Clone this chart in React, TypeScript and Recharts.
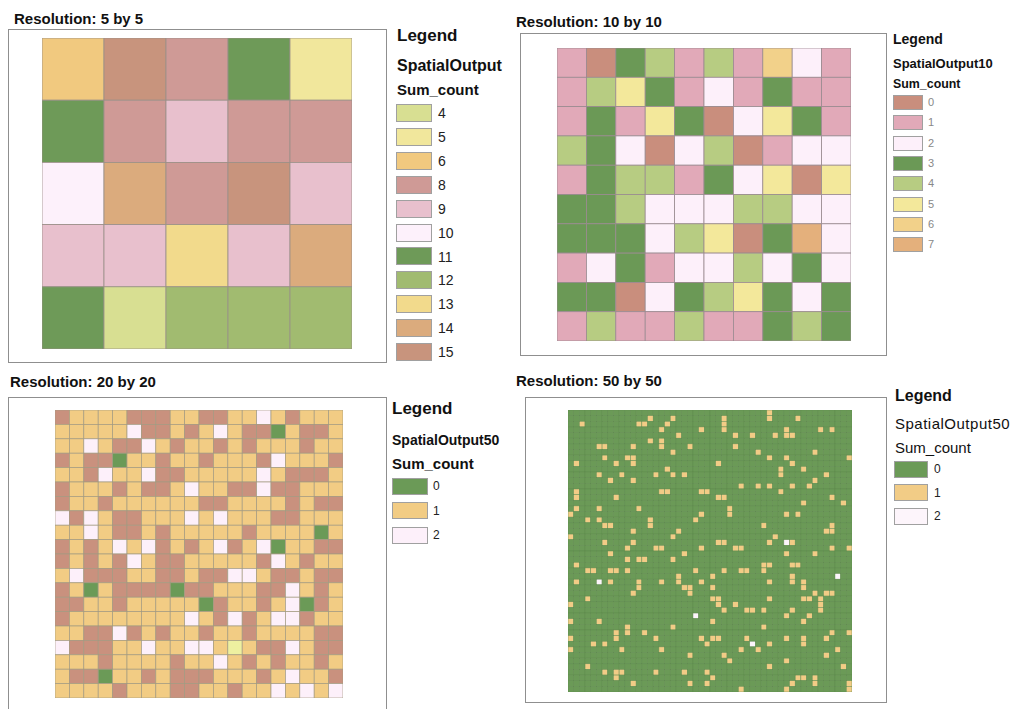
import React from "react";
import { ScatterChart, Scatter, XAxis, YAxis } from "recharts";

// 5 by 5 panel
const cells5 = [
  [6, 15, 8, 11, 5],
  [11, 8, 9, 8, 8],
  [10, 14, 8, 15, 9],
  [9, 9, 13, 9, 14],
  [11, 4, 12, 12, 12],
];
const legend5 = [4, 5, 6, 8, 9, 10, 11, 12, 13, 14, 15];
const colors5: Record<number, string> = {
  4: "#d8df92",
  5: "#f1e79c",
  6: "#f1c97f",
  8: "#cf9a96",
  9: "#e8c0cd",
  10: "#fdf1fb",
  11: "#6e9a58",
  12: "#a1bb70",
  13: "#f2da8c",
  14: "#dbab7d",
  15: "#c8947d",
};

// 10 by 10 panel
const cells10 = [
  [1, 0, 3, 4, 1, 4, 1, 6, 2, 1],
  [1, 4, 5, 3, 1, 2, 1, 3, 1, 1],
  [1, 3, 1, 5, 3, 0, 2, 5, 3, 1],
  [4, 3, 2, 0, 2, 4, 0, 1, 2, 2],
  [1, 3, 4, 4, 1, 3, 2, 5, 0, 5],
  [3, 3, 4, 2, 2, 2, 4, 4, 2, 2],
  [3, 3, 3, 2, 4, 5, 0, 3, 7, 2],
  [1, 2, 3, 1, 2, 2, 4, 2, 3, 2],
  [3, 3, 0, 2, 3, 4, 5, 3, 2, 3],
  [1, 4, 1, 1, 4, 1, 1, 3, 4, 3],
];
const legend10 = [0, 1, 2, 3, 4, 5, 6, 7];
const colors10: Record<number, string> = {
  0: "#c98e7d",
  1: "#e1a9b8",
  2: "#fdf0fa",
  3: "#6b9956",
  4: "#b7cc82",
  5: "#f3e89b",
  6: "#f2d18a",
  7: "#e4b07c",
};

// 20 by 20 panel
const cells20 = [
  [3, 1, 1, 1, 1, 3, 3, 3, 1, 1, 3, 3, 1, 1, 2, 1, 3, 1, 1, 1],
  [1, 1, 1, 1, 1, 2, 3, 3, 1, 3, 1, 2, 1, 3, 3, 0, 1, 3, 3, 1],
  [1, 1, 2, 1, 3, 3, 2, 1, 3, 1, 1, 3, 1, 3, 1, 1, 1, 3, 1, 1],
  [3, 1, 3, 3, 0, 1, 1, 3, 1, 1, 3, 1, 1, 1, 3, 2, 1, 1, 1, 3],
  [1, 1, 3, 2, 1, 1, 2, 3, 3, 1, 1, 1, 1, 1, 2, 1, 3, 3, 3, 1],
  [3, 1, 1, 1, 3, 1, 3, 3, 1, 2, 1, 1, 3, 3, 2, 3, 3, 1, 1, 1],
  [3, 1, 1, 3, 1, 1, 1, 1, 1, 1, 3, 3, 1, 1, 1, 1, 3, 1, 3, 3],
  [2, 3, 2, 1, 3, 3, 1, 1, 1, 2, 1, 2, 1, 1, 1, 3, 3, 1, 1, 1],
  [1, 1, 2, 1, 3, 3, 1, 3, 1, 1, 1, 1, 1, 3, 1, 1, 1, 1, 0, 1],
  [3, 1, 3, 1, 2, 1, 2, 3, 1, 3, 1, 2, 3, 1, 2, 0, 1, 1, 3, 3],
  [3, 1, 3, 1, 3, 2, 1, 3, 3, 1, 1, 1, 1, 1, 3, 2, 1, 3, 1, 1],
  [1, 2, 3, 3, 3, 1, 1, 3, 3, 1, 3, 3, 2, 2, 1, 3, 3, 1, 3, 3],
  [3, 1, 0, 1, 3, 3, 3, 3, 0, 3, 3, 1, 1, 1, 3, 3, 2, 1, 3, 1],
  [3, 3, 1, 1, 3, 1, 1, 1, 1, 1, 0, 3, 1, 1, 3, 1, 2, 0, 3, 1],
  [3, 1, 1, 1, 1, 1, 1, 1, 1, 2, 1, 3, 2, 3, 1, 2, 2, 3, 1, 1],
  [1, 1, 3, 3, 2, 3, 1, 3, 1, 1, 3, 1, 1, 3, 1, 1, 1, 1, 3, 3],
  [2, 3, 3, 3, 1, 1, 2, 1, 1, 2, 2, 1, 4, 1, 3, 3, 2, 1, 3, 3],
  [1, 1, 1, 3, 1, 1, 1, 1, 3, 1, 1, 2, 1, 3, 1, 3, 1, 1, 3, 1],
  [1, 3, 3, 0, 1, 1, 3, 1, 3, 3, 3, 1, 1, 1, 3, 1, 2, 1, 1, 3],
  [1, 1, 1, 1, 3, 1, 1, 1, 3, 3, 1, 1, 3, 1, 1, 2, 1, 2, 1, 2],
];
const legend20 = [0, 1, 2];
const colors20: Record<number, string> = {
  0: "#6b9a57",
  1: "#f2cc84",
  2: "#fdf0fa",
  3: "#c9917e",
  4: "#eef0a0",
};

// 50 by 50 panel: everything is 0 except these [row, col] cells
const ones50: [number, number][] = [
  [2, 2], [2, 12], [2, 13], [1, 14], [3, 16], [2, 17], [1, 18], [4, 19], [3, 23], [5, 14],
  [5, 16], [6, 16], [7, 18], [6, 21], [6, 5], [6, 6], [6, 11], [8, 6], [8, 10], [8, 11],
  [9, 11], [9, 8], [9, 1], [11, 5], [11, 9], [12, 7], [12, 11], [11, 15], [10, 17], [11, 18],
  [11, 20], [14, 1], [15, 1], [14, 16], [14, 17], [14, 23], [14, 24], [15, 8], [17, 1], [18, 0],
  [17, 5], [17, 12], [19, 3], [19, 5], [20, 6], [20, 7], [19, 14], [20, 14], [18, 23], [19, 22],
  [21, 11], [21, 19], [22, 0], [22, 18], [23, 6], [23, 11], [24, 10], [24, 15], [24, 16], [24, 23],
  [1, 27], [2, 27], [3, 27], [0, 35], [1, 35], [1, 40], [4, 29], [4, 32], [4, 36], [3, 38],
  [4, 38], [4, 39], [3, 44], [3, 46], [6, 29], [7, 33], [8, 35], [8, 38], [9, 39], [7, 43],
  [8, 49], [9, 26], [10, 37], [11, 37], [10, 41], [11, 45], [12, 43], [13, 42], [13, 30], [13, 33],
  [13, 35], [13, 39], [14, 37], [15, 26], [15, 27], [15, 46], [16, 41], [16, 48], [17, 28], [18, 28],
  [18, 38], [18, 40], [20, 34], [20, 46], [21, 46], [21, 45], [22, 36], [23, 26], [23, 27], [23, 35],
  [23, 39], [24, 29], [24, 30], [24, 46], [24, 49],
  [25, 7], [25, 20], [27, 1], [26, 10], [26, 12], [26, 13], [26, 18], [28, 3], [28, 4], [28, 7],
  [28, 8], [28, 10], [28, 22], [30, 1], [30, 7], [30, 12], [31, 12], [30, 16], [29, 19], [30, 19],
  [30, 23], [32, 11], [31, 20], [31, 21], [32, 21], [33, 3], [34, 0], [37, 0], [37, 5], [38, 10],
  [39, 10], [38, 18], [39, 8], [40, 8], [39, 13], [40, 0], [40, 15], [40, 23], [41, 4], [41, 6],
  [41, 24], [42, 0], [42, 9], [42, 16], [43, 21], [45, 3], [46, 6], [46, 8], [46, 9], [47, 8],
  [46, 15], [46, 20], [46, 24], [48, 11], [48, 21], [48, 24],
  [25, 38], [25, 43], [27, 34], [27, 35], [27, 39], [27, 40], [28, 27], [28, 30], [28, 31], [28, 34],
  [29, 25], [30, 35], [29, 39], [30, 39], [30, 41], [31, 41], [31, 25], [32, 43], [32, 45], [32, 46],
  [33, 25], [33, 26], [34, 26], [34, 29], [33, 35], [33, 41], [33, 42], [33, 44], [34, 44], [35, 44],
  [35, 27], [35, 31], [35, 32], [35, 34], [35, 39], [36, 38], [36, 42], [37, 25], [37, 41], [38, 34],
  [39, 46], [39, 49], [40, 25], [40, 26], [40, 31], [40, 38], [40, 41], [41, 41], [40, 45], [41, 35],
  [42, 30], [42, 33], [42, 47], [43, 27], [43, 45], [44, 28], [44, 38], [45, 35], [45, 48], [47, 25],
  [49, 30], [49, 38], [48, 39], [47, 40], [47, 41], [47, 43], [48, 43], [48, 49], [49, 49],
];
const twos50: [number, number][] = [
  [23, 38], [30, 5], [36, 22], [29, 47], [41, 32],
];
const legend50 = [0, 1, 2];
const colors50: Record<number, string> = {
  0: "#6b9a57",
  1: "#f2cc86",
  2: "#fdf5fb",
};

const cells50: number[][] = Array.from({ length: 50 }, () => Array(50).fill(0));
ones50.forEach(([r, c]) => (cells50[r][c] = 1));
twos50.forEach(([r, c]) => (cells50[r][c] = 2));

const FONT = "'Liberation Sans', Arial, sans-serif";

function GridMap({
  cells,
  colors,
  left,
  top,
  w,
  h,
  stroke,
  strokeWidth,
}: {
  cells: number[][];
  colors: Record<number, string>;
  left: number;
  top: number;
  w: number;
  h: number;
  stroke: string;
  strokeWidth: number;
}) {
  const n = cells.length;
  const data: { x: number; y: number; v: number }[] = [];
  cells.forEach((row, r) =>
    row.forEach((v, c) => data.push({ x: c + 0.5, y: r + 0.5, v }))
  );
  const cw = w / n;
  const ch = h / n;
  return (
    <div style={{ position: "absolute", left, top }}>
      <ScatterChart width={w} height={h} margin={{ top: 0, right: 0, bottom: 0, left: 0 }}>
        <XAxis type="number" dataKey="x" domain={[0, n]} hide />
        <YAxis type="number" dataKey="y" domain={[0, n]} reversed hide />
        <Scatter
          data={data}
          isAnimationActive={false}
          shape={(p: any) => (
            <rect
              x={p.cx - cw / 2}
              y={p.cy - ch / 2}
              width={cw}
              height={ch}
              fill={colors[p.payload.v]}
              stroke={stroke}
              strokeWidth={strokeWidth}
            />
          )}
        />
      </ScatterChart>
    </div>
  );
}

function Txt({
  x,
  cy,
  size,
  bold = false,
  color = "#111",
  spacing = 0,
  children,
}: {
  x: number;
  cy: number;
  size: number;
  bold?: boolean;
  color?: string;
  spacing?: number;
  children: React.ReactNode;
}) {
  return (
    <div
      style={{
        position: "absolute",
        left: x,
        top: cy - size * 0.49,
        fontSize: size,
        lineHeight: `${size}px`,
        fontWeight: bold ? "bold" : "normal",
        color,
        letterSpacing: spacing,
        whiteSpace: "nowrap",
        fontFamily: FONT,
      }}
    >
      {children}
    </div>
  );
}

function Frame({ left, top, w, h }: { left: number; top: number; w: number; h: number }) {
  return (
    <div
      style={{
        position: "absolute",
        left,
        top,
        width: w,
        height: h,
        border: "1px solid #8f8f8f",
        boxSizing: "border-box",
      }}
    />
  );
}

function Swatches({
  values,
  colors,
  x,
  firstCy,
  step,
  w,
  h,
  labelX,
  labelSize,
  labelColor,
}: {
  values: number[];
  colors: Record<number, string>;
  x: number;
  firstCy: number;
  step: number;
  w: number;
  h: number;
  labelX: number;
  labelSize: number;
  labelColor: string;
}) {
  return (
    <>
      {values.map((v, i) => {
        const cy = firstCy + i * step;
        return (
          <React.Fragment key={v}>
            <div
              style={{
                position: "absolute",
                left: x,
                top: cy - h / 2,
                width: w,
                height: h,
                background: colors[v],
                border: "1px solid #a0a0a0",
                boxSizing: "border-box",
              }}
            />
            <Txt x={labelX} cy={cy} size={labelSize} color={labelColor}>
              {v}
            </Txt>
          </React.Fragment>
        );
      })}
    </>
  );
}

export default function App() {
  return (
    <div
      style={{
        position: "absolute",
        left: 0,
        top: 0,
        width: 1013,
        height: 709,
        background: "#fff",
        overflow: "hidden",
        fontFamily: FONT,
      }}
    >
      {/* 5 by 5 */}
      <Txt x={14} cy={18} size={15} bold>
        Resolution: 5 by 5
      </Txt>
      <Frame left={8} top={29} w={379} h={334} />
      <GridMap cells={cells5} colors={colors5} left={42} top={38} w={310} h={311} stroke="#9a9088" strokeWidth={0.8} />
      <Txt x={397} cy={35} size={17} bold>
        Legend
      </Txt>
      <Txt x={397} cy={65.5} size={16} bold>
        SpatialOutput
      </Txt>
      <Txt x={397} cy={89.5} size={15} bold>
        Sum_count
      </Txt>
      <Swatches values={legend5} colors={colors5} x={396} firstCy={113} step={23.9} w={36} h={18} labelX={438} labelSize={14} labelColor="#222" />

      {/* 10 by 10 */}
      <Txt x={516} cy={21} size={15} bold>
        Resolution: 10 by 10
      </Txt>
      <Frame left={520} top={33} w={367} h={323} />
      <GridMap cells={cells10} colors={colors10} left={557} top={48} w={294} h={293} stroke="#9a8a90" strokeWidth={0.8} />
      <Txt x={893} cy={38.7} size={14} bold>
        Legend
      </Txt>
      <Txt x={893} cy={63.5} size={13} bold>
        SpatialOutput10
      </Txt>
      <Txt x={893} cy={84} size={12.4} bold>
        Sum_count
      </Txt>
      <Swatches values={legend10} colors={colors10} x={893} firstCy={102.5} step={20.3} w={30} h={15} labelX={928} labelSize={11} labelColor="#888" />

      {/* 20 by 20 */}
      <Txt x={10} cy={381} size={15} bold>
        Resolution: 20 by 20
      </Txt>
      <Frame left={8} top={397} w={379} h={330} />
      <GridMap cells={cells20} colors={colors20} left={55} top={410} w={288} h={288} stroke="#a39a80" strokeWidth={0.7} />
      <Txt x={392} cy={408} size={17} bold>
        Legend
      </Txt>
      <Txt x={392} cy={440} size={14} bold>
        SpatialOutput50
      </Txt>
      <Txt x={392} cy={463} size={15} bold>
        Sum_count
      </Txt>
      <Swatches values={legend20} colors={colors20} x={392} firstCy={486} step={24.5} w={36} h={17} labelX={433} labelSize={12} labelColor="#222" />

      {/* 50 by 50 */}
      <Txt x={516} cy={380} size={15} bold>
        Resolution: 50 by 50
      </Txt>
      <Frame left={525} top={397} w={362} h={306} />
      <GridMap cells={cells50} colors={colors50} left={568} top={410} w={284} h={282} stroke="#5e8a4c" strokeWidth={0.5} />
      <Txt x={895} cy={396} size={16} bold>
        Legend
      </Txt>
      <Txt x={895} cy={423} size={15} spacing={0.5}>
        SpatialOutput50
      </Txt>
      <Txt x={895} cy={447} size={15}>
        Sum_count
      </Txt>
      <Swatches values={legend50} colors={colors50} x={894} firstCy={469} step={23.5} w={34} h={17} labelX={934} labelSize={12} labelColor="#222" />
    </div>
  );
}
